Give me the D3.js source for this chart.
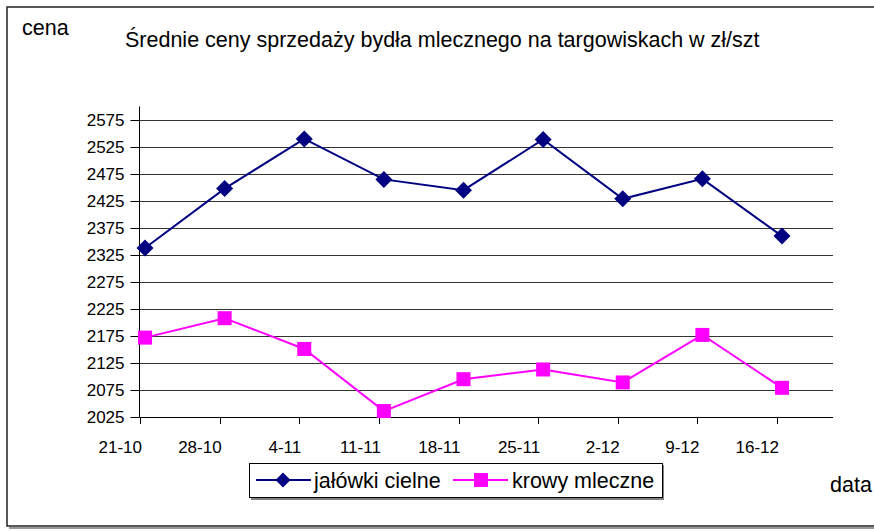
<!DOCTYPE html>
<html><head><meta charset="utf-8">
<script src="https://cdn.jsdelivr.net/npm/d3@7"></script>
<style>
html,body{margin:0;padding:0;background:#fff;}
text{font-family:"Liberation Sans",Arial,sans-serif;fill:#000;}
</style></head>
<body>
<svg id="c" width="874" height="532"></svg>
<script>
const categories = ["21-10","28-10","4-11","11-11","18-11","25-11","2-12","9-12","16-12"];
const jalowki = [2338, 2448, 2540, 2465, 2445, 2539, 2429, 2466, 2360];
const krowy = [2172, 2208, 2151, 2036, 2095, 2113, 2089, 2177, 2079];
const yTicks = [2025,2075,2125,2175,2225,2275,2325,2375,2425,2475,2525,2575];
const seriesNames = ["jałówki cielne","krowy mleczne"];
const title = "Średnie ceny sprzedaży bydła mlecznego na targowiskach w zł/szt";

const svg = d3.select("#c");
const FS = 17, FL = 21.5;

// outer border with shadow
svg.append("line").attr("x1",9).attr("y1",528).attr("x2",874).attr("y2",528).attr("stroke","#999").attr("stroke-width",2);
svg.append("rect").attr("x",7).attr("y",7).attr("width",880).attr("height",519).attr("fill","none").attr("stroke","#222").attr("stroke-width",1.5);

const x = d3.scalePoint().domain(categories).range([145, 782]);
const y = d3.scaleLinear().domain([2025, 2600]).range([417, 106.5]);
const plotL = 139.5, plotR = 833;

// gridlines
svg.append("g").selectAll("line").data(yTicks.filter(v=>v>2025)).join("line")
  .attr("x1",plotL).attr("x2",plotR)
  .attr("y1",d=>Math.round(y(d))+0.5).attr("y2",d=>Math.round(y(d))+0.5)
  .attr("stroke","#333").attr("stroke-width",1);

// y axis
const yAxis = d3.axisLeft(y).tickValues(yTicks).tickSize(9).tickPadding(6).tickFormat(d3.format("d"));
const gy = svg.append("g").attr("transform",`translate(${plotL},0)`).call(yAxis);
gy.select(".domain").attr("d",`M0,${y(2600)}V${y(2025)}`).attr("stroke","#000");
gy.selectAll(".tick line").attr("stroke","#000");
gy.selectAll(".tick text").attr("font-size",FS).attr("font-family","Liberation Sans, Arial, sans-serif").attr("fill","#000");
gy.selectAll(".tick").attr("transform",d=>`translate(0,${Math.round(y(d))+0.5})`);

// x axis
const gx = svg.append("g");
gx.append("line").attr("x1",plotL).attr("x2",plotR).attr("y1",Math.round(y(2025))+0.5).attr("y2",Math.round(y(2025))+0.5).attr("stroke","#000");
gx.selectAll("line.t").data(categories).join("line").attr("class","t")
  .attr("x1",d=>Math.round(x(d)-5)+0.5).attr("x2",d=>Math.round(x(d)-5)+0.5)
  .attr("y1",Math.round(y(2025))).attr("y2",Math.round(y(2025))+7).attr("stroke","#000");
gx.selectAll("text").data(categories).join("text")
  .attr("x",d=>x(d)-3).attr("y",453).attr("text-anchor","end").attr("font-size",FS).text(d=>d);

// lines
const line = d3.line().x((d,i)=>x(categories[i])).y(d=>y(d));
svg.append("path").datum(jalowki).attr("d",line).attr("fill","none").attr("stroke","#000080").attr("stroke-width",2);
svg.append("path").datum(krowy).attr("d",line).attr("fill","none").attr("stroke","#FF00FF").attr("stroke-width",2);

function drawDiamond(g, cx, cy, r){
  g.append("path").attr("d",`M${cx},${cy-r}L${cx+r},${cy}L${cx},${cy+r}L${cx-r},${cy}Z`).attr("fill","#000080");
}
jalowki.forEach((v,i)=>drawDiamond(svg, x(categories[i]), y(v), 8.5));
svg.append("g").selectAll("rect").data(krowy).join("rect")
  .attr("x",(d,i)=>x(categories[i])-7).attr("y",d=>y(d)-7).attr("width",14).attr("height",14).attr("fill","#FF00FF");

// titles
svg.append("text").attr("x",22).attr("y",35).attr("font-size",FL).text("cena");
svg.append("text").attr("x",125).attr("y",47).attr("font-size",FL).text(title);
svg.append("text").attr("x",830).attr("y",492).attr("font-size",FL).text("data");

// legend
const lg = svg.append("g");
lg.append("rect").attr("x",251).attr("y",465).attr("width",413).attr("height",35).attr("fill","#808080");
lg.append("rect").attr("x",249.5).attr("y",463.5).attr("width",413).attr("height",34).attr("fill","#fff").attr("stroke","#000");
lg.append("line").attr("x1",256).attr("x2",311).attr("y1",480).attr("y2",480).attr("stroke","#000080").attr("stroke-width",2);
drawDiamond(lg, 283, 480, 7.5);
lg.append("text").attr("x",314).attr("y",488).attr("font-size",FL).text(seriesNames[0]);
lg.append("line").attr("x1",453).attr("x2",508).attr("y1",480).attr("y2",480).attr("stroke","#FF00FF").attr("stroke-width",2);
lg.append("rect").attr("x",474).attr("y",473).attr("width",14).attr("height",14).attr("fill","#FF00FF");
lg.append("text").attr("x",512).attr("y",488).attr("font-size",FL).text(seriesNames[1]);
</script>
</body></html>
